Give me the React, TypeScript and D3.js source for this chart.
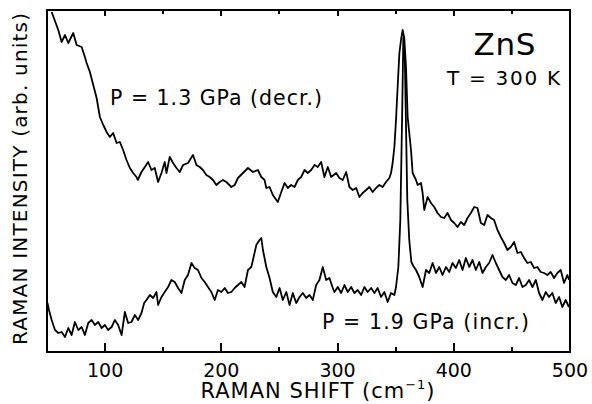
import React from 'react';
import * as d3 from 'd3';

// Raman spectra: [shift (cm^-1), intensity (arb. units)]
const decrSpectrum: [number, number][] = [
  [54.0, 340], [59.7, 322], [62.6, 310], [65.5, 317], [68.3, 309], [72.6, 319], [75.5, 307],
  [79.8, 305], [82.6, 295], [84.1, 289], [86.9, 280], [89.8, 267], [92.7, 254], [95.5, 235],
  [98.4, 227], [101.3, 220], [104.1, 215], [106.9, 219], [109.9, 209], [112.7, 210], [115.5, 202],
  [118.4, 192], [121.3, 184], [124.1, 179], [127.0, 175], [128.1, 172], [131.3, 180], [134.2, 185],
  [137.0, 190], [139.9, 182], [142.7, 184], [145.6, 170], [148.5, 179], [151.3, 190], [152.8, 179],
  [155.6, 195], [158.5, 189], [161.4, 184], [164.2, 180], [167.1, 187], [171.3, 189], [175.6, 197],
  [178.6, 187], [181.4, 185], [184.2, 182], [187.1, 177], [190.0, 175], [192.8, 172], [195.7, 167],
  [198.6, 170], [201.4, 172], [204.3, 170], [208.6, 165], [211.5, 167], [214.3, 174], [218.6, 179],
  [222.9, 184], [227.2, 180], [231.5, 182], [234.4, 175], [237.2, 172], [238.7, 164], [241.5, 165],
  [244.3, 157], [248.6, 150], [251.6, 160], [254.4, 169], [257.2, 164], [260.1, 167], [263.0, 165],
  [265.8, 172], [268.7, 175], [271.6, 182], [274.4, 179], [277.3, 182], [280.2, 187], [283.0, 185],
  [285.9, 190], [288.7, 175], [291.6, 185], [294.5, 175], [298.8, 179], [301.6, 174], [304.5, 172],
  [307.4, 180], [310.2, 165], [313.1, 162], [316.0, 164], [318.8, 155], [321.6, 159], [324.6, 162],
  [327.4, 165], [330.2, 160], [333.1, 164], [336.0, 167], [338.8, 165], [341.7, 170], [344.6, 174],
  [346.0, 179], [347.4, 189], [348.9, 205], [350.3, 232], [351.7, 265], [353.2, 299], [354.6, 312],
  [356.0, 322], [357.4, 314], [358.9, 285], [360.3, 235], [363.2, 202], [364.6, 179], [367.5, 172],
  [368.9, 167], [371.8, 169], [373.2, 159], [374.6, 142], [377.5, 155], [380.4, 149], [383.2, 145],
  [386.0, 139], [389.0, 135], [391.8, 134], [394.6, 139], [397.6, 132], [400.4, 129], [403.2, 125],
  [406.1, 130], [409.0, 127], [411.8, 134], [414.7, 139], [417.6, 145], [420.4, 144], [423.3, 129],
  [426.2, 127], [429.0, 137], [431.9, 134], [434.7, 132], [437.6, 122], [440.5, 115], [443.3, 109],
  [446.2, 102], [449.1, 105], [451.9, 110], [454.8, 99], [457.7, 100], [460.5, 94], [463.3, 89],
  [466.3, 90], [469.1, 84], [471.9, 85], [474.8, 80], [477.7, 79], [480.5, 77], [483.4, 80],
  [486.3, 74], [489.1, 79], [492.0, 82], [494.9, 69], [497.7, 77], [499.2, 72],
];

const incrSpectrum: [number, number][] = [
  [50.4, 49], [51.7, 42], [54.0, 32], [56.9, 22], [59.7, 19], [62.6, 20], [65.5, 15], [68.3, 24],
  [71.2, 17], [74.0, 30], [76.9, 22], [79.8, 25], [82.6, 17], [85.5, 29], [88.4, 32], [91.2, 27],
  [94.1, 30], [97.0, 24], [99.8, 27], [102.6, 22], [105.6, 25], [108.4, 32], [111.2, 27], [114.2, 17],
  [117.0, 40], [119.8, 29], [122.7, 30], [125.6, 37], [128.4, 32], [131.3, 39], [133.6, 49], [135.6, 52],
  [138.5, 57], [141.3, 54], [144.2, 60], [145.6, 47], [148.5, 55], [151.3, 60], [154.2, 65], [157.1, 72],
  [159.9, 70], [162.8, 64], [165.7, 59], [168.5, 72], [171.3, 77], [174.3, 89], [177.1, 84], [179.9, 82],
  [182.9, 74], [185.7, 70], [188.5, 65], [191.4, 60], [194.3, 52], [197.1, 62], [200.0, 60], [202.9, 64],
  [205.7, 59], [208.6, 60], [211.5, 64], [214.3, 67], [217.2, 70], [220.0, 65], [222.9, 82], [225.8, 85],
  [227.2, 92], [230.1, 107], [232.9, 112], [234.4, 114], [235.8, 102], [238.7, 85], [241.5, 74],
  [244.3, 60], [247.3, 55], [250.1, 64], [252.9, 52], [255.9, 60], [258.7, 47], [261.5, 59], [264.4, 49],
  [267.3, 55], [270.1, 59], [273.0, 54], [275.9, 57], [278.7, 52], [281.6, 67], [284.4, 72], [287.3, 85],
  [290.2, 72], [293.0, 74], [295.9, 64], [297.3, 60], [300.2, 65], [303.1, 59], [305.9, 67], [308.8, 60],
  [311.7, 65], [314.5, 59], [317.3, 62], [320.3, 57], [323.1, 65], [325.9, 60], [328.9, 64], [331.7, 59],
  [334.5, 64], [337.4, 55], [340.3, 60], [343.1, 50], [346.0, 59], [348.9, 57], [350.3, 65], [352.3, 85],
  [354.0, 132], [355.5, 232], [356.6, 314], [357.9, 292], [358.8, 232], [360.0, 152], [361.7, 112],
  [363.5, 90], [365.2, 86], [367.5, 82], [370.3, 75], [373.2, 65], [376.1, 82], [378.9, 79], [381.8, 89],
  [384.7, 79], [387.5, 85], [390.3, 77], [393.3, 85], [396.1, 80], [398.9, 89], [401.8, 84], [404.7, 92],
  [407.5, 82], [410.4, 94], [413.3, 85], [416.1, 92], [419.0, 82], [421.9, 90], [424.7, 79], [427.6, 85],
  [430.4, 89], [433.3, 97], [436.2, 89], [439.0, 82], [441.9, 75], [444.8, 72], [447.6, 77], [450.5, 69],
  [453.4, 67], [456.2, 74], [459.1, 65], [462.0, 67], [464.8, 72], [467.7, 65], [470.6, 72], [473.4, 59],
  [476.3, 52], [479.1, 60], [482.0, 55], [484.8, 59], [487.7, 49], [490.6, 55], [493.4, 45], [496.3, 52],
  [499.1, 45],
];

const majorTicks = [100, 200, 300, 400, 500];
const minorTicks = [150, 250, 350, 450];
const shiftDomain = [50, 500];
const intensityDomain = [0, 342];

const FONT = '"DejaVu Sans", sans-serif';

const W = 592;
const H = 404;
const margin = { top: 10, right: 22, bottom: 52, left: 47 };
const width = W - margin.left - margin.right;
const height = H - margin.top - margin.bottom;

const App = () => {
  const x = d3.scaleLinear().domain(shiftDomain).range([0, width]);
  const y = d3.scaleLinear().domain(intensityDomain).range([height, 0]);

  const line = d3.line<[number, number]>()
    .x(d => x(d[0]))
    .y(d => y(d[1]));

  // frame as a filled ring (outer box minus inner box), 2px, pixel aligned
  const [x0, x1] = x.range();
  const [yb, yt] = y.range();
  const lw = 2;
  const ring =
    `M${x0 - lw / 2},${yt - lw / 2}H${x1 + lw / 2}V${yb + lw / 2}H${x0 - lw / 2}Z` +
    `M${x0 + lw / 2},${yt + lw / 2}V${yb - lw / 2}H${x1 - lw / 2}V${yt + lw / 2}Z`;

  // tick marks as small filled bars
  const tickBar = (t: number, top: boolean, len: number) => {
    const cx = Math.round(x(t));
    return top
      ? `M${cx - 1},${yt}h2v${len}h-2Z`
      : `M${cx - 1},${yb}h2v${-len}h-2Z`;
  };
  const tickPath =
    majorTicks.map(t => tickBar(t, false, 9) + tickBar(t, true, 6)).join('') +
    minorTicks.map(t => tickBar(t, false, 5) + tickBar(t, true, 4)).join('');

  // annotations inside the plot
  const notes = [
    { t: 'ZnS', x: 473.5, y: 55, size: 31, len: 62 },
    { t: 'T = 300 K', x: 447, y: 85, size: 20, len: 113 },
    { t: 'P = 1.3 GPa (decr.)', x: 110, y: 104.5, size: 20.5, len: 212 },
    { t: 'P = 1.9 GPa (incr.)', x: 322, y: 328.5, size: 20.5, len: 207 },
  ];

  return (
    <svg
      width={W}
      height={H}
      style={{ position: 'absolute', left: 0, top: 0, background: '#fff' }}
      fontFamily={FONT}
    >
      <g transform={`translate(${margin.left},${margin.top})`}>
        {[decrSpectrum, incrSpectrum].map((s, i) => (
          <path
            key={i}
            d={line(s) || ''}
            fill="none"
            stroke="#000"
            strokeWidth={1.8}
            strokeLinejoin="round"
          />
        ))}

        <path d={ring} fill="#000" fillRule="evenodd" stroke="none" />
        <path d={tickPath} fill="#000" stroke="none" />

        {majorTicks.map(t => (
          <text key={t} x={x(t)} y={yb + 25} textAnchor="middle" fontSize={19}>
            {t}
          </text>
        ))}
      </g>

      {/* axis titles */}
      <text
        transform="translate(27,179) rotate(-90)"
        textAnchor="middle"
        fontSize={20}
        textLength={332}
        lengthAdjust="spacing"
      >
        RAMAN INTENSITY (arb. units)
      </text>
      <text x={318} y={398} textAnchor="middle" fontSize={21} letterSpacing={1}>
        <tspan>RAMAN SHIFT (cm</tspan>
        <tspan dy={-9} fontSize={13}>{'\u22121'}</tspan>
        <tspan dy={9}>)</tspan>
      </text>

      {notes.map(n => (
        <text
          key={n.t}
          x={n.x}
          y={n.y}
          fontSize={n.size}
          textLength={n.len}
          lengthAdjust="spacing"
        >
          {n.t}
        </text>
      ))}
    </svg>
  );
};

export default App;
